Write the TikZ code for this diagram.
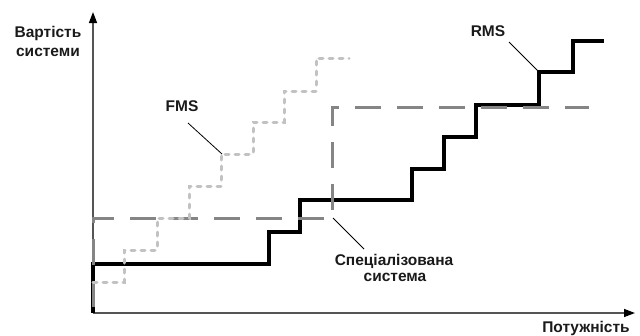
\documentclass[tikz,border=0pt]{standalone}
\usepackage{fontspec}
\setmainfont{Liberation Sans}
\usetikzlibrary{arrows.meta}
\definecolor{axisgray}{HTML}{555555}
\definecolor{fmsgray}{HTML}{C2C2C2}
\definecolor{specgray}{HTML}{858585}
\definecolor{txt}{HTML}{1A1A1A}
\begin{document}
\begin{tikzpicture}[x=1pt,y=-1pt,
  axisline/.style={draw=axisgray,line width=1.4pt,-{Triangle[length=11pt,width=8pt,color=black,fill=black]}},
  rmsline/.style={draw=black,line width=3.2pt},
  fmsline/.style={draw=fmsgray,line width=3pt,line cap=round,dash pattern=on 4pt off 6pt},
  specline/.style={draw=specgray,line width=3pt,dash pattern=on 26pt off 16pt,dash phase=36pt},
  leader/.style={draw=black,line width=0.8pt},
  lbl/.style={font=\fontsize{15.5}{18}\selectfont\bfseries,text=txt,inner sep=0pt,anchor=base}]
\useasboundingbox (0,0) rectangle (640,335);
% axes
\coordinate (O) at (93,313);
\coordinate (ytip) at (93,12);
\coordinate (xtip) at (635,313);
\draw[axisline] (O) -- (ytip);
\draw[axisline] (O) -- (xtip);
% RMS
\draw[rmsline] (O) -- (93,264) -- (269,264) -- (269,232) -- (300,232) -- (300,200)
  -- (412,200) -- (412,169) -- (444,169) -- (444,137) -- (476,137) -- (476,105)
  -- (539,105) -- (539,72) -- (573,72) -- (573,41) -- (604,41);
% specialised system
\draw[specline] (O) -- (93,218) -- (332,218) -- (332,107) -- (589,107);
% FMS
\draw[fmsline] (93,282) -- (124,282) -- (124,250) -- (157,250) -- (157,218)
  -- (189,218) -- (189,186) -- (221,186) -- (221,154) -- (253,154) -- (253,122)
  -- (284,122) -- (284,91) -- (316,91) -- (316,58) -- (349,58);
% labels
\node[lbl] (yl1) at (48,37.3) {Вартість};
\node[lbl] (yl2) at (48,56.7) {системи};
\node[lbl] (xl) at (586,332.5) {Потужність};
\node[lbl] (fms) at (182,111) {FMS};
\node[lbl] (rms) at (488,36) {RMS};
\node[lbl] (sp1) at (394,265) {Спеціалізована};
\node[lbl] (sp2) at (395,281.7) {система};
% leaders
\coordinate (fmsA) at (188,123);
\coordinate (fmsB) at (222,154);
\coordinate (rmsA) at (509,42);
\coordinate (rmsB) at (539,72);
\coordinate (spA) at (364,249);
\coordinate (spB) at (333,218);
\draw[leader] (fmsA) -- (fmsB);
\draw[leader] (rmsA) -- (rmsB);
\draw[leader] (spA) -- (spB);
\end{tikzpicture}
\end{document}
